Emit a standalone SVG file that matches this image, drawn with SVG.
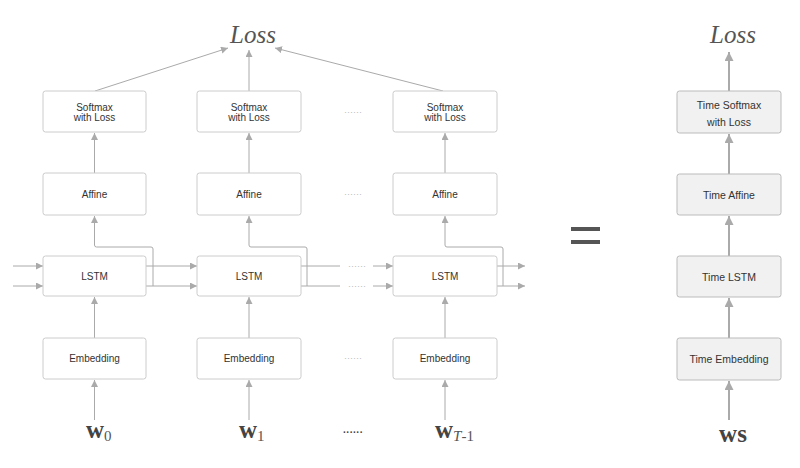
<svg xmlns="http://www.w3.org/2000/svg" width="800" height="468" viewBox="0 0 800 468">
<defs>
<marker id="ah" markerUnits="userSpaceOnUse" markerWidth="8" markerHeight="8" refX="7" refY="3.5" orient="auto"><path d="M0,0 L7,3.5 L0,7 Z" fill="#aaa"/></marker>
<marker id="ahb" markerUnits="userSpaceOnUse" markerWidth="10" markerHeight="10" refX="9" refY="4.5" orient="auto"><path d="M0,0 L9,4.5 L0,9 Z" fill="#aaa"/></marker>
<style>
.box{fill:#fff;stroke:#ccc;stroke-width:1}
.tbox{fill:#f1f1f1;stroke:#bbb;stroke-width:1}
.t{font-family:"Liberation Sans",Arial,sans-serif;font-size:10px;fill:#333;text-anchor:middle}
.tt{font-family:"Liberation Sans",Arial,sans-serif;font-size:10.5px;fill:#333;text-anchor:middle}
.ln{fill:none;stroke:#aaa;stroke-width:1}
.lb{fill:none;stroke:#aaa;stroke-width:2}
.dots{font-family:"Liberation Sans",Arial,sans-serif;font-size:9px;fill:#bbb;text-anchor:middle}
.loss{font-family:"Liberation Serif","Times New Roman",serif;font-style:italic;font-size:25px;fill:#555;text-anchor:middle}
.w{font-family:"Liberation Serif","Times New Roman",serif;font-weight:bold;font-size:25px;fill:#444}
.sub{font-family:"Liberation Serif","Times New Roman",serif;font-size:15px;fill:#555}
</style>
</defs>

<g id="connectors">
<line class="ln" x1="95" y1="91" x2="228" y2="48" marker-end="url(#ah)"/>
<line class="ln" x1="249" y1="91" x2="249" y2="50" marker-end="url(#ah)"/>
<line class="ln" x1="443" y1="91" x2="275" y2="48" marker-end="url(#ah)"/>
<line class="ln" x1="94.5" y1="173" x2="94.5" y2="133" marker-end="url(#ah)"/>
<line class="ln" x1="249" y1="173" x2="249" y2="133" marker-end="url(#ah)"/>
<line class="ln" x1="445" y1="173" x2="445" y2="133" marker-end="url(#ah)"/>
<path class="ln" d="M153,286 V249 Q153,247 151,247 H96.5 Q94.5,247 94.5,245 V216" marker-end="url(#ah)"/>
<path class="ln" d="M307,286 V249 Q307,247 305,247 H251 Q249,247 249,245 V216" marker-end="url(#ah)"/>
<path class="ln" d="M503,286 V249 Q503,247 501,247 H447 Q445,247 445,245 V216" marker-end="url(#ah)"/>
<line class="ln" x1="94.5" y1="338" x2="94.5" y2="297" marker-end="url(#ah)"/>
<line class="ln" x1="249" y1="338" x2="249" y2="297" marker-end="url(#ah)"/>
<line class="ln" x1="445" y1="338" x2="445" y2="297" marker-end="url(#ah)"/>
<line class="ln" x1="94.5" y1="420" x2="94.5" y2="380" marker-end="url(#ah)"/>
<line class="ln" x1="249" y1="420" x2="249" y2="380" marker-end="url(#ah)"/>
<line class="ln" x1="445" y1="420" x2="445" y2="380" marker-end="url(#ah)"/>
<line class="ln" x1="13" y1="266" x2="43" y2="266" marker-end="url(#ah)"/>
<line class="ln" x1="13" y1="286" x2="43" y2="286" marker-end="url(#ah)"/>
<line class="ln" x1="146" y1="266" x2="197" y2="266" marker-end="url(#ah)"/>
<line class="ln" x1="146" y1="286" x2="197" y2="286" marker-end="url(#ah)"/>
<line class="ln" x1="301" y1="266" x2="340" y2="266"/>
<line class="ln" x1="301" y1="286" x2="340" y2="286"/>
<line class="ln" x1="373" y1="266" x2="393" y2="266" marker-end="url(#ah)"/>
<line class="ln" x1="373" y1="286" x2="393" y2="286" marker-end="url(#ah)"/>
<line class="ln" x1="497" y1="266" x2="525" y2="266" marker-end="url(#ah)"/>
<line class="ln" x1="497" y1="286" x2="525" y2="286" marker-end="url(#ah)"/>
<line class="lb" x1="729" y1="91" x2="729" y2="52" marker-end="url(#ahb)"/>
<line class="lb" x1="729" y1="174" x2="729" y2="134" marker-end="url(#ahb)"/>
<line class="lb" x1="729" y1="256" x2="729" y2="216" marker-end="url(#ahb)"/>
<line class="lb" x1="729" y1="338" x2="729" y2="298" marker-end="url(#ahb)"/>
<line class="lb" x1="729" y1="420" x2="729" y2="381" marker-end="url(#ahb)"/>
</g>

<g id="loss-left"><text class="loss" x="253" y="43">Loss</text></g>
<g id="loss-right"><text class="loss" x="733" y="43">Loss</text></g>

<g id="softmax0"><rect class="box" x="43" y="91" width="103" height="41" rx="2.5"/><text class="t" x="94.5" y="111">Softmax</text><text class="t" x="94.5" y="120.5">with Loss</text></g>
<g id="softmax1"><rect class="box" x="197" y="91" width="104" height="41" rx="2.5"/><text class="t" x="249" y="111">Softmax</text><text class="t" x="249" y="120.5">with Loss</text></g>
<g id="softmax2"><rect class="box" x="393" y="91" width="104" height="41" rx="2.5"/><text class="t" x="445" y="111">Softmax</text><text class="t" x="445" y="120.5">with Loss</text></g>

<g id="affine0"><rect class="box" x="43" y="173" width="103" height="42" rx="2.5"/><text class="t" x="94.5" y="198">Affine</text></g>
<g id="affine1"><rect class="box" x="197" y="173" width="104" height="42" rx="2.5"/><text class="t" x="249" y="198">Affine</text></g>
<g id="affine2"><rect class="box" x="393" y="173" width="104" height="42" rx="2.5"/><text class="t" x="445" y="198">Affine</text></g>

<g id="lstm0"><rect class="box" x="43" y="256" width="103" height="40" rx="2.5"/><text class="t" x="94.5" y="280">LSTM</text></g>
<g id="lstm1"><rect class="box" x="197" y="256" width="104" height="40" rx="2.5"/><text class="t" x="249" y="280">LSTM</text></g>
<g id="lstm2"><rect class="box" x="393" y="256" width="104" height="40" rx="2.5"/><text class="t" x="445" y="280">LSTM</text></g>

<g id="emb0"><rect class="box" x="43" y="338" width="103" height="41" rx="2.5"/><text class="t" x="94.5" y="362">Embedding</text></g>
<g id="emb1"><rect class="box" x="197" y="338" width="104" height="41" rx="2.5"/><text class="t" x="249" y="362">Embedding</text></g>
<g id="emb2"><rect class="box" x="393" y="338" width="104" height="41" rx="2.5"/><text class="t" x="445" y="362">Embedding</text></g>

<g id="dots">
<text class="dots" x="353" y="115">······</text>
<text class="dots" x="353" y="197">······</text>
<text class="dots" x="357" y="269">······</text>
<text class="dots" x="357" y="289">······</text>
<text class="dots" x="353" y="361">······</text>
<text x="353" y="436" style="font-family:'Liberation Sans',Arial,sans-serif;font-size:10px;font-weight:bold;fill:#444;text-anchor:middle">······</text>
</g>

<g id="w0"><text x="86" y="438"><tspan class="w">w</tspan><tspan class="sub" dy="3">0</tspan></text></g>
<g id="w1"><text x="239" y="438"><tspan class="w">w</tspan><tspan class="sub" dy="3">1</tspan></text></g>
<g id="wT"><text x="435" y="438"><tspan class="w">w</tspan><tspan class="sub" dy="3" font-style="italic">T</tspan><tspan class="sub">-1</tspan></text></g>

<g id="equals"><rect x="571" y="227" width="29" height="4" fill="#555"/><rect x="571" y="240" width="29" height="4" fill="#555"/></g>

<g id="tsoftmax"><rect class="tbox" x="677" y="91" width="104" height="42" rx="2.5"/><text class="tt" x="729" y="109">Time Softmax</text><text class="tt" x="729" y="126">with Loss</text></g>
<g id="taffine"><rect class="tbox" x="677" y="174" width="104" height="41" rx="2.5"/><text class="tt" x="729" y="199">Time Affine</text></g>
<g id="tlstm"><rect class="tbox" x="677" y="256" width="104" height="41" rx="2.5"/><text class="tt" x="729" y="281">Time LSTM</text></g>
<g id="temb"><rect class="tbox" x="677" y="338" width="104" height="42" rx="2.5"/><text class="tt" x="729" y="363">Time Embedding</text></g>

<g id="ws"><text class="w" x="733" y="442" text-anchor="middle">ws</text></g>
</svg>
